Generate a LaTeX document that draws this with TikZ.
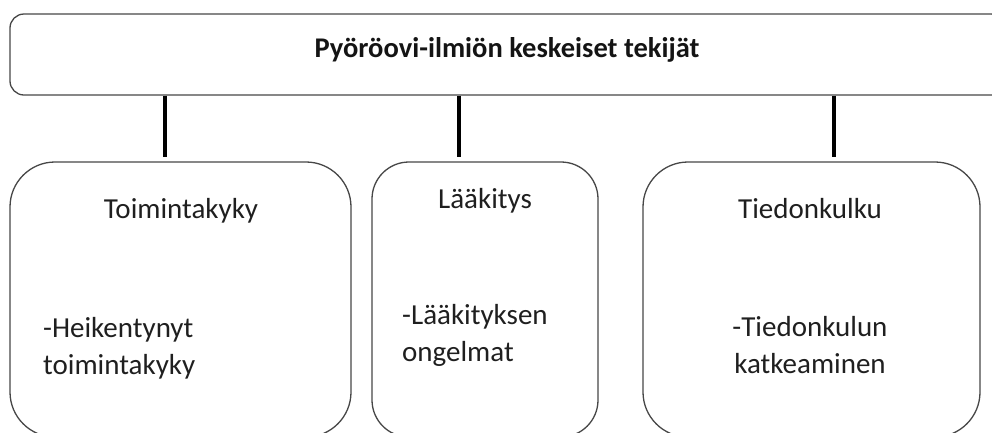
\documentclass[tikz,border=0pt]{standalone}
\usepackage{fontspec}
\setmainfont{Carlito}
\begin{document}
\begin{tikzpicture}[x=1pt,y=-1pt,
  frame/.style={draw=black!72,line width=1.3pt,rectangle,inner sep=0pt},
  link/.style={line width=4pt,black},
  lbl/.style={inner sep=0pt,text=black!88,font=\fontsize{29}{37}\selectfont},
  ttl/.style={inner sep=0pt,text=black!92,font=\fontsize{28.5}{36}\selectfont\bfseries}]
\useasboundingbox (0,0) rectangle (992,432);
% top box
\node[frame,rounded corners=14pt,minimum width=995pt,minimum height=81pt] (top) at (507.5,54.5) {};
\node[ttl,anchor=base] (toptext) at (507,57) {Pyöröovi-ilmiön keskeiset tekijät};
% lower boxes
\node[frame,rounded corners=45pt,minimum width=341pt,minimum height=275pt] (b1) at (180.5,299.5) {};
\node[frame,rounded corners=37pt,minimum width=226pt,minimum height=275pt] (b2) at (485,299.5) {};
\node[frame,rounded corners=45pt,minimum width=337pt,minimum height=275pt] (b3) at (811.5,299.5) {};
% headings
\node[lbl,anchor=base] (h1) at (181,218) {Toimintakyky};
\node[lbl,anchor=base] (h2) at (485,208) {Lääkitys};
\node[lbl,anchor=base] (h3) at (810,218) {Tiedonkulku};
% contents
\node[lbl,anchor=north west,align=left] (t1) at (43,317) {-Heikentynyt\\toimintakyky};
\node[lbl,anchor=north west,align=left] (t2) at (402,304) {-Lääkityksen\\ongelmat};
\node[lbl,anchor=north,align=center] (t3) at (810,316) {-Tiedonkulun\\katkeaminen};
% connectors
\coordinate (c1) at (165,157);
\coordinate (c2) at (459,157);
\coordinate (c3) at (834,157);
\draw[link] (c1 |- top.south) -- (c1);
\draw[link] (c2 |- top.south) -- (c2);
\draw[link] (c3 |- top.south) -- (c3);
\end{tikzpicture}
\end{document}
